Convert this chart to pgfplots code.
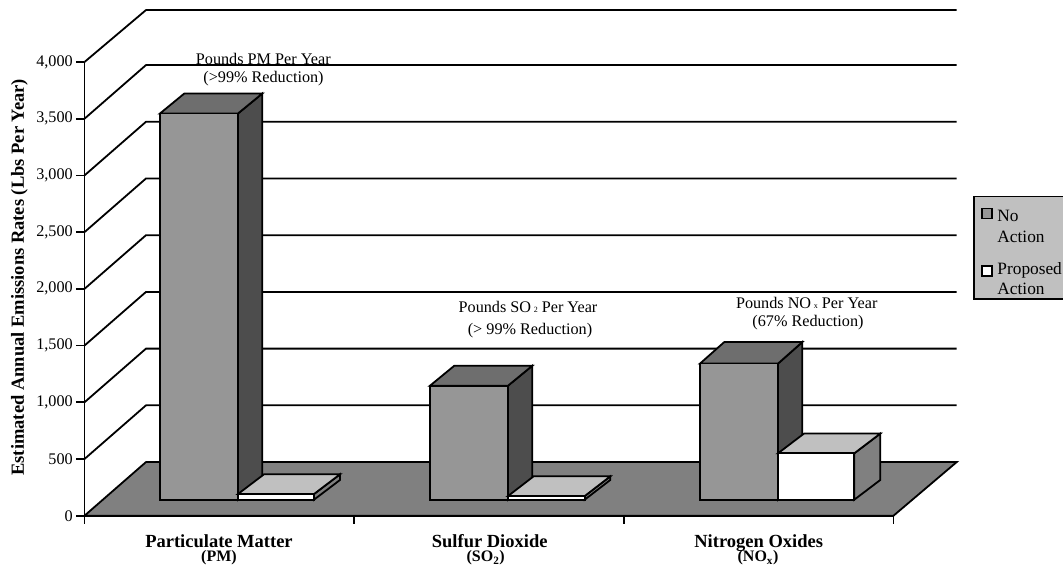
\documentclass[border=0pt]{standalone}
\usepackage{fontspec}
\setmainfont{Liberation Serif}
\usepackage{pgfplots}
\pgfplotsset{compat=1.18}

\definecolor{floorgray}{HTML}{808080}
\definecolor{noF}{HTML}{969696}
\definecolor{noT}{HTML}{6E6E6E}
\definecolor{noS}{HTML}{4D4D4D}
\definecolor{prT}{HTML}{C0C0C0}
\definecolor{prS}{HTML}{808080}

\newcommand{\lab}{\fontsize{16.2}{20}\selectfont}
\newcommand{\leg}{\fontsize{17.3}{20.5}\selectfont}
\newcommand{\catA}{\fontsize{18.5}{20}\selectfont\bfseries}
\newcommand{\catB}{\fontsize{16}{20}\selectfont\bfseries}

\begin{document}
\begin{tikzpicture}
\path[clip, use as bounding box] (-84.5pt,-49.3pt) rectangle (978.5pt,515.7pt);
\begin{axis}[
	scale only axis,
	width=809pt,
	height=453.7pt,
	xmin=0, xmax=809,
	ymin=0, ymax=4000,
	clip=false,
	axis on top,
	axis x line=bottom,
	axis y line=left,
	axis line style={-, line width=1.8pt},
	xtick={0,269.7,539.4,809},
	xticklabels={,,,},
	ytick={0,500,1000,1500,2000,2500,3000,3500,4000},
	tick align=outside,
	major tick length=8pt,
	tick style={black, line width=1.8pt},
	tick label style={font=\lab},
	yticklabel style={/pgf/number format/1000 sep={,}, /pgf/number format/assume math mode=true, inner sep=3.5pt},
	legend style={at={(1.0986,0.7053)}, anchor=north west, fill=prT, draw=black, line width=1.8pt,
		font=\leg, inner xsep=7pt, inner ysep=4pt, row sep=20pt,
		nodes={text depth=, inner sep=0pt}},
	legend cell align=left,
	wall/.style={black, line width=1.8pt, forget plot},
	face/.style={draw=black, line width=1.8pt, line join=miter, forget plot, yshift=16pt},
]
% back wall lines
\addplot[wall] coordinates {(0,500)(61.5,973)(872.2,973)};
\addplot[wall] coordinates {(0,1000)(61.5,1473)(872.2,1473)};
\addplot[wall] coordinates {(0,1500)(61.5,1973)(872.2,1973)};
\addplot[wall] coordinates {(0,2000)(61.5,2473)(872.2,2473)};
\addplot[wall] coordinates {(0,2500)(61.5,2973)(872.2,2973)};
\addplot[wall] coordinates {(0,3000)(61.5,3473)(872.2,3473)};
\addplot[wall] coordinates {(0,3500)(61.5,3973)(872.2,3973)};
\addplot[wall] coordinates {(0,4000)(61.5,4458)(872.2,4458)};
% floor
\addplot[wall, fill=floorgray] coordinates {(0,0)(809,0)(872.2,473)(61.5,473)} -- cycle;

% Particulate Matter
\addplot[face, fill=noS] coordinates {(153.5,0)(177.8,176)(177.8,3581)(153.5,3405)} -- cycle;
\addplot[face, fill=noT] coordinates {(75.5,3405)(99.8,3581)(177.8,3581)(153.5,3405)} -- cycle;
\addplot[face, fill=noF] coordinates {(75.5,0)(153.5,0)(153.5,3405)(75.5,3405)} -- cycle;
\addplot[face, fill=prS] coordinates {(229.5,0)(255.5,174)(255.5,224)(229.5,50)} -- cycle;
\addplot[face, fill=prT] coordinates {(153.5,50)(179.5,224)(255.5,224)(229.5,50)} -- cycle;
\addplot[face, fill=white] coordinates {(153.5,0)(229.5,0)(229.5,50)(153.5,50)} -- cycle;

% Sulfur Dioxide
\addplot[face, fill=noS] coordinates {(423.5,0)(447.8,176)(447.8,1181)(423.5,1005)} -- cycle;
\addplot[face, fill=noT] coordinates {(345.5,1005)(369.8,1181)(447.8,1181)(423.5,1005)} -- cycle;
\addplot[face, fill=noF] coordinates {(345.5,0)(423.5,0)(423.5,1005)(345.5,1005)} -- cycle;
\addplot[face, fill=prS] coordinates {(500.2,0)(525.8,174)(525.8,206)(500.2,32)} -- cycle;
\addplot[face, fill=prT] coordinates {(423.5,32)(449.1,206)(525.8,206)(500.2,32)} -- cycle;
\addplot[face, fill=white] coordinates {(423.5,0)(500.2,0)(500.2,32)(423.5,32)} -- cycle;

% Nitrogen Oxides
\addplot[face, fill=noS] coordinates {(693.5,0)(717.8,190)(717.8,1390)(693.5,1200)} -- cycle;
\addplot[face, fill=noT] coordinates {(615.5,1200)(639.8,1390)(717.8,1390)(693.5,1200)} -- cycle;
\addplot[face, fill=noF] coordinates {(615.5,0)(693.5,0)(693.5,1200)(615.5,1200)} -- cycle;
\addplot[face, fill=prS] coordinates {(769.8,0)(795.8,174)(795.8,583)(769.8,409)} -- cycle;
\addplot[face, fill=prT] coordinates {(693.5,409)(719.5,583)(795.8,583)(769.8,409)} -- cycle;
\addplot[face, fill=white] coordinates {(693.5,0)(769.8,0)(769.8,409)(693.5,409)} -- cycle;

% legend
\addlegendimage{legend image code/.code={\draw[fill=noF, line width=1.8pt] (0pt,3pt) rectangle (10pt,13pt); \path (14.5pt,3pt);}}
\addlegendentry{\parbox[t]{68pt}{\rule{0pt}{21pt}No\\Action}}
\addlegendimage{legend image code/.code={\draw[fill=white, line width=1.8pt] (0pt,3pt) rectangle (10pt,13pt); \path (14.5pt,3pt);}}
\addlegendentry{\parbox[t]{68pt}{Proposed\\Action}}

% annotations
\node[font=\lab] at (axis cs:178.8,4026) {Pounds PM Per Year};
\node[font=\lab] at (axis cs:179,3850) {(>99\% Reduction)};
\node[font=\lab] at (axis cs:443.5,1843) {Pounds SO\,{\footnotesize 2} Per Year};
\node[font=\lab] at (axis cs:445.5,1628) {(> 99\% Reduction)};
\node[font=\lab] at (axis cs:722.2,1878) {Pounds NO\,{\footnotesize x} Per Year};
\node[font=\lab] at (axis cs:723.5,1699) {(67\% Reduction)};

% category labels
\node[font=\catA, anchor=base, inner sep=0pt] at (axis cs:134.5,-280) {Particulate Matter};
\node[font=\catB, anchor=base, inner sep=0pt] at (axis cs:134.5,-403) {(PM)};
\node[font=\catA, anchor=base, inner sep=0pt] at (axis cs:405.2,-280) {Sulfur Dioxide};
\node[font=\catB, anchor=base, inner sep=0pt] at (axis cs:401.2,-403) {(SO\textsubscript{2})};
\node[font=\catA, anchor=base, inner sep=0pt] at (axis cs:674.2,-280) {Nitrogen Oxides};
\node[font=\catB, anchor=base, inner sep=0pt] at (axis cs:673.5,-403) {(NO\textsubscript{x})};

% y title
\node[font=\catA, rotate=90] at (axis cs:-65,2102) {Estimated Annual Emissions Rates (Lbs Per Year)};
\end{axis}
\end{tikzpicture}
\end{document}
